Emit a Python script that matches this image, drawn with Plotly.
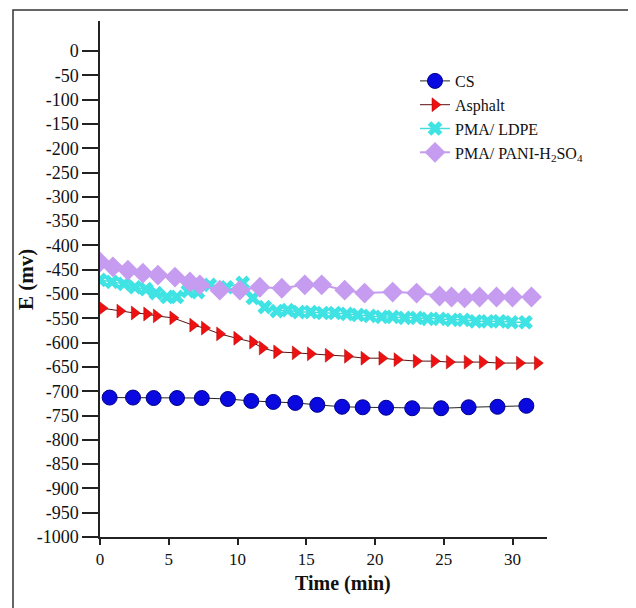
import plotly.graph_objects as go

# ---- data ----
cs_t = [0.7, 2.4, 3.9, 5.6, 7.4, 9.3, 11.0, 12.6, 14.2, 15.8, 17.6, 19.1, 20.8, 22.7, 24.8, 26.8, 28.9, 31.0]
cs_e = [-713, -713, -714, -714, -714, -716, -720, -722, -724, -728, -732, -733, -734, -735, -735, -733, -732, -730]

asp_t = [0.15, 1.45, 2.5, 3.4, 4.1, 5.3, 6.75, 7.6, 8.7, 9.95, 11.1, 11.8, 12.85, 14.2, 15.3, 16.6, 18.0,
         19.2, 20.5, 21.6, 23.0, 24.3, 25.4, 26.7, 27.8, 29.0, 30.5, 31.8]
asp_e = [-529, -535, -539, -541, -545, -549, -564, -570, -582, -591, -599, -611, -619, -621, -623, -626, -628,
         -632, -632, -635, -638, -638, -640, -640, -640, -642, -642, -642]

ldpe_t = [0.0, 0.87, 1.74, 2.54, 3.34, 4.07, 4.87, 5.59, 6.39, 7.12, 7.99, 9.22, 10.38, 11.11, 11.98, 12.85,
          13.65, 14.45, 15.32, 16.19, 17.07, 17.94, 18.74, 19.61, 20.48, 21.28, 22.15, 23.02, 23.82, 24.69,
          25.56, 26.43, 27.31, 28.18, 29.05, 29.92, 30.94]
ldpe_e = [-471, -475, -479, -486, -490, -498, -506, -506, -494, -496, -481, -486, -477, -508, -527, -535,
          -533, -537, -537, -539, -539, -541, -543, -545, -547, -547, -549, -549, -551, -551,
          -553, -553, -556, -556, -556, -558, -558]

pani_t = [0.0, 0.94, 2.03, 3.12, 4.21, 5.45, 6.54, 7.26, 8.71, 10.17, 11.62, 13.22, 14.89, 16.12, 17.79,
          19.24, 21.28, 23.02, 24.69, 25.56, 26.51, 27.6, 28.83, 29.99, 31.37]
pani_e = [-434, -444, -451, -457, -461, -465, -475, -481, -492, -492, -486, -488, -481, -481, -492,
          -498, -496, -498, -504, -506, -508, -506, -506, -506, -506]

x_ticks = [0, 5, 10, 15, 20, 25, 30]
y_ticks = list(range(-1000, 1, 50))
y_ticktext = [str(v) for v in y_ticks]

FONT = "Liberation Serif, Times New Roman, serif"

fig = go.Figure()
fig.add_trace(go.Scatter(x=cs_t, y=cs_e, name="CS", mode="lines+markers",
                         line=dict(color="#222222", width=1),
                         marker=dict(symbol="circle", size=15, color="#0a0ae0",
                                     line=dict(color="#00008a", width=1))))
fig.add_trace(go.Scatter(x=asp_t, y=asp_e, name="Asphalt", mode="lines+markers",
                         line=dict(color="#5a1010", width=1),
                         marker=dict(symbol="triangle-right", size=12, color="#ee1111",
                                     line=dict(color="#b00000", width=0.5))))
fig.add_trace(go.Scatter(x=ldpe_t, y=ldpe_e, name="PMA/ LDPE", mode="lines+markers",
                         line=dict(color="#44dddd", width=1.5),
                         marker=dict(symbol="x", size=13, color="#3fe3e3",
                                     line=dict(color="#3fe3e3", width=0))))
fig.add_trace(go.Scatter(x=pani_t, y=pani_e, name="PMA/ PANI-H<sub>2</sub>SO<sub>4</sub>",
                         mode="lines+markers",
                         line=dict(color="#c59cf0", width=2),
                         marker=dict(symbol="diamond", size=16, color="#c59cf0",
                                     line=dict(width=0))))

# page has an 8px body margin: work in reference-image pixels and shift
OFF = 8
W, H = 636 - OFF, 608 - OFF
# plot area in reference pixels: x 100..547, y 21..537
L, T = 100 - OFF, 21 - OFF
PW, PH = 447, 516
R, B = W - L - PW, H - T - PH

def px(xp):
    return (xp - OFF - L) / PW

def py(yp):
    return (T + PH - (yp - OFF)) / PH

fig.update_layout(
    width=W, height=H,
    margin=dict(l=L, r=R, t=T, b=B),
    paper_bgcolor="white", plot_bgcolor="white",
    font=dict(family=FONT, color="#111111", size=18),
    showlegend=True,
    legend=dict(x=px(415), y=py(64), xanchor="left", yanchor="top",
                bgcolor="rgba(0,0,0,0)", font=dict(family=FONT, size=16, color="#111111"),
                tracegroupgap=0, itemwidth=30),
    xaxis=dict(range=[0, 32.5], tickvals=x_ticks, ticks="outside", ticklen=6, tickwidth=1.5,
               tickcolor="#222222", showline=True, linecolor="#222222", linewidth=1.5,
               showgrid=False, zeroline=False, tickfont=dict(size=17, family=FONT)),
    xaxis2=dict(range=[0, 32.5], matches="x", overlaying="x", anchor="y", side="bottom",
                tickvals=x_ticks, ticks="inside", ticklen=8, tickwidth=1.5, tickcolor="#222222",
                showticklabels=False, showline=False, showgrid=False, zeroline=False),
    yaxis=dict(range=[-1000, 62], tickvals=y_ticks, ticktext=y_ticktext, ticks="outside",
               ticklen=16, tickwidth=1.5,
               tickcolor="#222222", showline=True, linecolor="#222222", linewidth=1.5,
               showgrid=False, zeroline=False, tickfont=dict(size=18, family=FONT)),
)

fig.add_annotation(text="<b>Time (min)</b>", xref="paper", yref="paper",
                   x=px(343), y=py(583), showarrow=False, xanchor="center", yanchor="middle",
                   font=dict(family=FONT, size=20, color="#111111"))
fig.add_annotation(text="<b>E (mv)</b>", xref="paper", yref="paper", textangle=-90,
                   x=px(26), y=py(280), showarrow=False, xanchor="center", yanchor="middle",
                   font=dict(family=FONT, size=21, color="#111111"))

# outer frame (bottom edge falls just outside the picture, as in the reference)
fig.add_shape(type="rect", xref="paper", yref="paper",
              x0=px(13), x1=px(632), y0=py(612), y1=py(10),
              line=dict(color="#333333", width=1.5), fillcolor="rgba(0,0,0,0)", layer="below")

fig.write_html("out.html")
